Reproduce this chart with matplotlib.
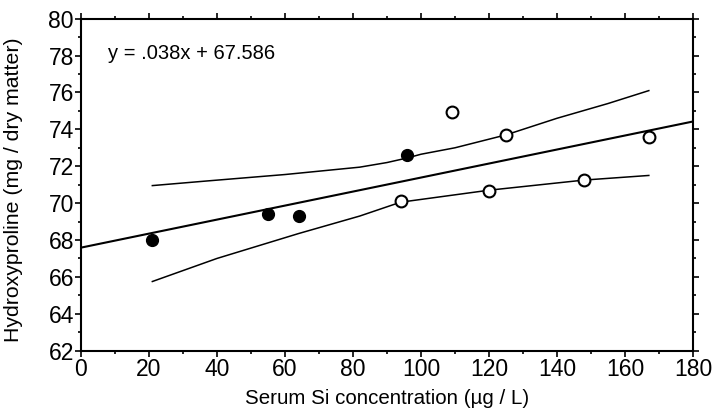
import numpy as np
import matplotlib.pyplot as plt
from matplotlib.ticker import MultipleLocator

plt.rcParams['font.family'] = ['Liberation Sans', 'DejaVu Sans']

# data
si_filled = [21, 55, 64, 96]
hyp_filled = [68.0, 69.4, 69.3, 72.6]
si_open = [94, 109, 120, 125, 148, 167]
hyp_open = [70.1, 74.95, 70.65, 73.7, 71.25, 73.6]

# regression y = .038x + 67.586
slope = 0.038
intercept = 67.586
reg_x = [0, 180]

# confidence band (traced)
band_x = [21, 37, 60, 82, 90, 96, 100, 110, 125, 140, 155, 167]
band_hi = [70.95, 71.2, 71.55, 71.95, 72.2, 72.45, 72.65, 73.0, 73.7, 74.6, 75.4, 76.1]
band_lo_x = [21, 40, 64, 82, 94, 120, 148, 167]
band_lo = [65.75, 67.0, 68.35, 69.3, 70.05, 70.7, 71.25, 71.5]

fig = plt.figure(figsize=(7.13, 4.15), dpi=100)
ax = fig.add_axes([0.1135, 0.155, 0.8585, 0.8])

ax.plot(reg_x, [slope * v + intercept for v in reg_x], color='black', lw=1.5, zorder=2)
ax.plot(band_x, band_hi, color='black', lw=1.1, zorder=2)
ax.plot(band_lo_x, band_lo, color='black', lw=1.1, zorder=2)

ax.plot(si_filled, hyp_filled, 'o', color='black', ms=8.5, zorder=3)
ax.plot(si_open, hyp_open, 'o', mfc='white', mec='black', mew=1.5, ms=8.5, zorder=3)

ax.set_xlim(0, 180)
ax.set_ylim(62, 80)
ax.xaxis.set_major_locator(MultipleLocator(20))
ax.xaxis.set_minor_locator(MultipleLocator(10))
ax.yaxis.set_major_locator(MultipleLocator(2))
ax.yaxis.set_minor_locator(MultipleLocator(1))
ax.tick_params(which='both', direction='out', top=True, right=True,
               labeltop=False, labelright=False, width=1.2)
ax.tick_params(which='major', length=4, pad=1, labelsize=16.5)
ax.tick_params(which='minor', length=2.5)
for s in ax.spines.values():
    s.set_linewidth(1.5)

ax.set_xlabel('Serum Si concentration (µg / L)', fontsize=14.8)
ax.set_ylabel('Hydroxyproline (mg / dry matter)', fontsize=15.3)
ax.xaxis.set_label_coords(0.5, -0.115)
ax.yaxis.set_label_coords(-0.094, 0.485)

ax.text(8, 78.1, 'y = .038x + 67.586', fontsize=14.5, va='center', ha='left')

fig.savefig('out.png', dpi=100)
